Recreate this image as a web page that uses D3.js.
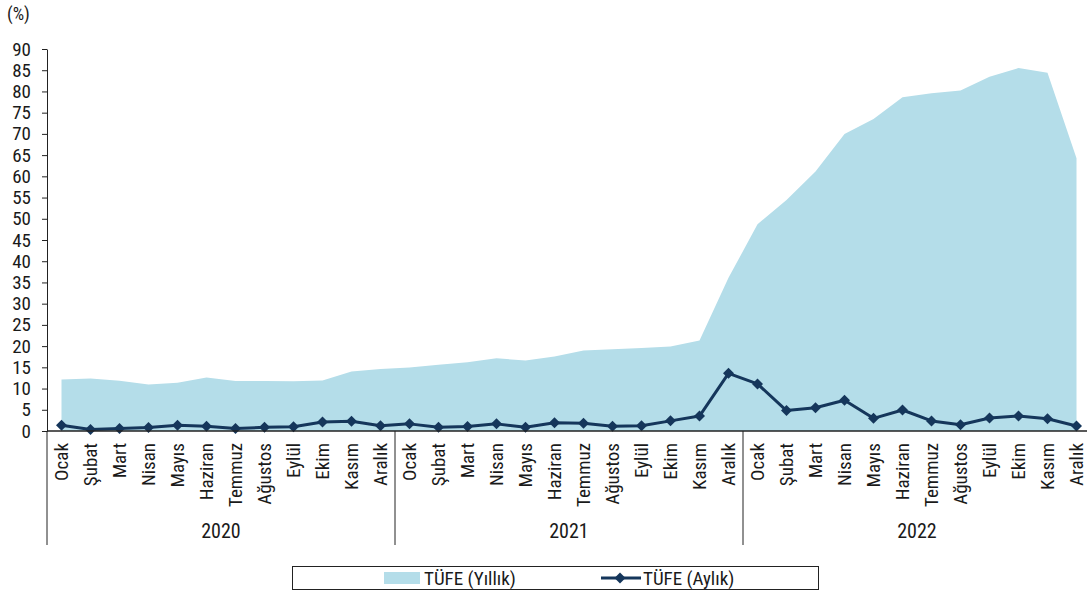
<!DOCTYPE html>
<html><head><meta charset="utf-8">
<script src="https://cdn.jsdelivr.net/npm/d3@7"></script>
<style>
body{margin:0;background:#fff;}
svg text{font-family:"Liberation Sans Narrow","Arial Narrow","Roboto Condensed","DejaVu Sans Condensed",sans-serif;fill:#1a1a1a;}
</style></head>
<body><svg id="c" width="1087" height="593"></svg>
<script>
const years = ["2020","2021","2022"];
const months = ["Ocak","Şubat","Mart","Nisan","Mayıs","Haziran","Temmuz","Ağustos","Eylül","Ekim","Kasım","Aralık"];
const annual = [12.15,12.37,11.86,10.94,11.39,12.62,11.76,11.77,11.75,11.89,14.03,14.60,
                14.97,15.61,16.19,17.14,16.59,17.53,18.95,19.25,19.58,19.89,21.31,36.08,
                48.69,54.44,61.14,69.97,73.50,78.62,79.60,80.21,83.45,85.51,84.39,64.27];
const monthly = [1.35,0.35,0.57,0.85,1.36,1.13,0.58,0.86,0.99,2.13,2.30,1.25,
                 1.68,0.91,1.08,1.68,0.89,1.94,1.80,1.12,1.25,2.39,3.51,13.58,
                 11.10,4.81,5.46,7.25,2.98,4.95,2.37,1.46,3.08,3.54,2.88,1.18];
const yTicks = d3.range(0,91,5);
const seriesNames = ["TÜFE (Yıllık)","TÜFE (Aylık)"];

const svg = d3.select("#c");
const areaColor = "#b4dde9", lineColor = "#15365b", axisColor = "#222";
const fs = 19;

const idx = d3.range(annual.length);
const x = d3.scaleBand().domain(idx).range([47,1091]).padding(0);
const cx = i => x(i) + x.bandwidth()/2;
const y = d3.scaleLinear().domain([0,90]).range([431,49]);

// area
svg.append("path").datum(idx)
  .attr("fill",areaColor)
  .attr("d", d3.area().x(i=>cx(i)).y0(y(0)).y1(i=>y(annual[i])));

// line
svg.append("path").datum(idx)
  .attr("fill","none").attr("stroke",lineColor).attr("stroke-width",3).attr("stroke-linejoin","round")
  .attr("d", d3.line().x(i=>cx(i)).y(i=>y(monthly[i])));
svg.append("g").selectAll("path").data(idx).join("path")
  .attr("fill",lineColor)
  .attr("transform",i=>`translate(${cx(i)},${y(monthly[i])})`)
  .attr("d","M0,-5.5L5.5,0L0,5.5L-5.5,0Z");

// y axis
const ya = svg.append("g").attr("transform","translate(47,0)")
  .call(d3.axisLeft(y).tickValues(yTicks).tickSize(5).tickPadding(11).tickSizeOuter(0));
ya.select(".domain").attr("stroke",axisColor);
ya.selectAll(".tick line").attr("stroke",axisColor);
ya.selectAll("text").attr("font-size",fs).attr("fill","#1a1a1a").attr("font-family",null);

svg.append("text").attr("x",7).attr("y",20).attr("font-size",fs-1).text("(%)");

// x axis baseline
svg.append("line").attr("x1",47).attr("x2",1091).attr("y1",y(0)).attr("y2",y(0))
  .attr("stroke",axisColor).attr("stroke-width",1.5);

// month labels
svg.append("g").selectAll("text").data(idx).join("text")
  .attr("transform",i=>`translate(${cx(i)},443) rotate(-90)`)
  .attr("text-anchor","end").attr("dy","0.35em").attr("font-size",fs)
  .text(i=>months[i%12]);

// year separators and labels
const bw = x.bandwidth();
svg.append("g").selectAll("line").data(d3.range(years.length+1)).join("line")
  .attr("x1",k=>x(0)+k*12*bw).attr("x2",k=>x(0)+k*12*bw)
  .attr("y1",y(0)).attr("y2",545).attr("stroke",axisColor);
svg.append("g").selectAll("text").data(years).join("text")
  .attr("x",(d,k)=>x(0)+(k*12+6)*bw).attr("y",538)
  .attr("text-anchor","middle").attr("font-size",fs+1).text(d=>d);

// legend
const lg = svg.append("g");
lg.append("rect").attr("x",292.5).attr("y",566.5).attr("width",526).attr("height",23)
  .attr("fill","none").attr("stroke","#222").attr("stroke-width",1);
lg.append("rect").attr("x",384).attr("y",572).attr("width",36).attr("height",12).attr("fill",areaColor);
lg.append("text").attr("x",424).attr("y",585).attr("font-size",fs).text(seriesNames[0]);
lg.append("line").attr("x1",601).attr("x2",641).attr("y1",578).attr("y2",578)
  .attr("stroke",lineColor).attr("stroke-width",3);
lg.append("path").attr("transform","translate(620,578)").attr("d","M0,-5.5L5.5,0L0,5.5L-5.5,0Z").attr("fill",lineColor);
lg.append("text").attr("x",643).attr("y",585).attr("font-size",fs).text(seriesNames[1]);
</script></body></html>
